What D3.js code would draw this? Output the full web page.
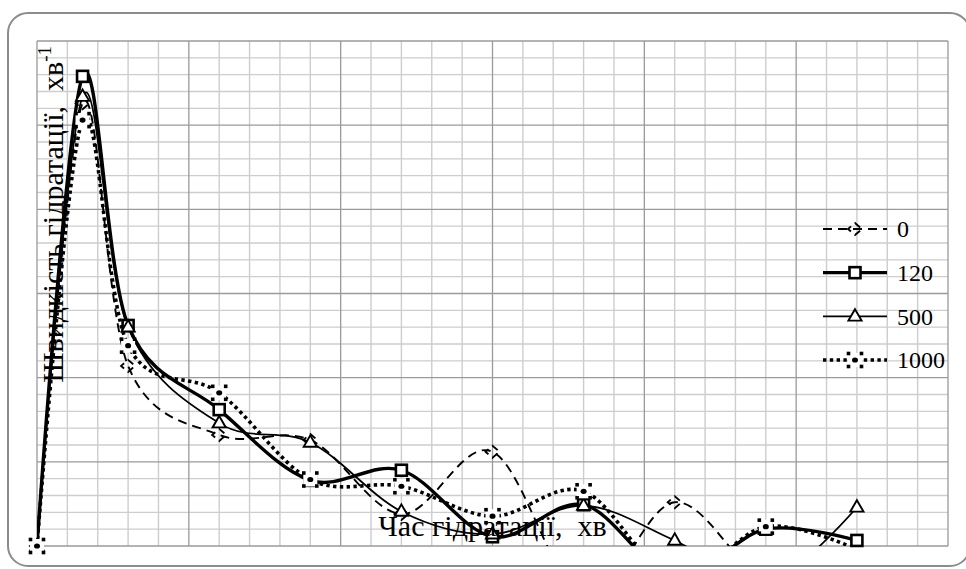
<!DOCTYPE html>
<html>
<head>
<meta charset="utf-8">
<script src="https://cdn.jsdelivr.net/npm/d3@7"></script>
<style>
  html, body { margin: 0; padding: 0; background: #fff; }
  svg { display: block; }
  text { font-family: "Liberation Serif", "Times New Roman", serif; fill: #000; }
</style>
</head>
<body>
<div id="chart"></div>
<script>
// ---- data ----
const timeValues = [0, 0.5, 1, 2, 3, 4, 5, 6, 7, 8, 9];
const seriesNames = ["0", "120", "500", "1000"];
const values0    = [0, 26.3, 10.7, 6.6, 6.3, 1.9, 5.6, -3.0, 2.6, -2.0, -1.5];
const values120  = [0, 27.9, 13.1, 8.1, 3.9, 4.5, 0.55, 2.45, -1.8, 1.0, 0.33];
const values500  = [0, 26.7, 13.0, 7.3, 6.15, 2.05, 0.7, 2.4, 0.33, -2.2, 2.3];
const values1000 = [0, 25.3, 11.9, 9.1, 3.95, 3.55, 1.77, 3.25, -2.0, 1.15, -0.2];
const xDomain = [0, 10];
const yDomain = [0, 30];
const gridDivisions = 30;
const majorEvery = 5;
const xTitle = "Час гідратації,  хв";
const yTitle = "Швидкість гідратації,  хв";
const yTitleSup = "-1";

const W = 966, H = 569;
const plot = { left: 37, top: 41, right: 948, bottom: 546 };

const svg = d3.select("#chart").append("svg").attr("width", W).attr("height", H);

// chart frame
svg.append("rect")
  .attr("x", 8).attr("y", 13).attr("width", 962).attr("height", 553)
  .attr("rx", 20).attr("ry", 20)
  .attr("fill", "#fff").attr("stroke", "#8c8c8c").attr("stroke-width", 2);

const x = d3.scaleLinear().domain(xDomain).range([plot.left, plot.right]);
const y = d3.scaleLinear().domain(yDomain).range([plot.bottom, plot.top]);

// grid
const gridIdx = d3.range(0, gridDivisions + 1);
const xGrid = gridIdx.map(i => xDomain[0] + i * (xDomain[1] - xDomain[0]) / gridDivisions);
const yGrid = gridIdx.map(i => yDomain[0] + i * (yDomain[1] - yDomain[0]) / gridDivisions);
const g = svg.append("g");
const minorX = xGrid.filter((d, i) => i % majorEvery !== 0);
const majorX = xGrid.filter((d, i) => i % majorEvery === 0);
const minorY = yGrid.filter((d, i) => i % majorEvery !== 0);
const majorY = yGrid.filter((d, i) => i % majorEvery === 0);
g.selectAll(".mx").data(minorX).enter().append("line")
  .attr("x1", d => x(d)).attr("x2", d => x(d)).attr("y1", plot.top).attr("y2", plot.bottom)
  .attr("stroke", "#cdcdcd").attr("stroke-width", 1.4);
g.selectAll(".my").data(minorY).enter().append("line")
  .attr("y1", d => y(d)).attr("y2", d => y(d)).attr("x1", plot.left).attr("x2", plot.right)
  .attr("stroke", "#cdcdcd").attr("stroke-width", 1.4);
g.selectAll(".Mx").data(majorX).enter().append("line")
  .attr("x1", d => x(d)).attr("x2", d => x(d)).attr("y1", plot.top).attr("y2", plot.bottom)
  .attr("stroke", "#9a9a9a").attr("stroke-width", 1.3);
g.selectAll(".My").data(majorY).enter().append("line")
  .attr("y1", d => y(d)).attr("y2", d => y(d)).attr("x1", plot.left).attr("x2", plot.right)
  .attr("stroke", "#9a9a9a").attr("stroke-width", 1.3);

// clip
svg.append("clipPath").attr("id", "clip").append("rect")
  .attr("x", plot.left).attr("y", plot.top)
  .attr("width", plot.right - plot.left).attr("height", plot.bottom - plot.top);

const styles = {
  "0":    { width: 1.9, dash: "9,6", marker: "dashdiamond" },
  "120":  { width: 3.4, dash: null, marker: "square" },
  "500":  { width: 1.7, dash: null, marker: "triangle" },
  "1000": { width: 3.6, dash: "3.4,3.4", marker: "dots" }
};
const allValues = [values0, values120, values500, values1000];
const series = seriesNames.map((name, i) => ({
  name, style: styles[name],
  points: timeValues.map((t, j) => ({ t, v: allValues[i][j] }))
}));

const line = d3.line().x(d => x(d.t)).y(d => y(d.v)).curve(d3.curveCardinal.tension(0));

const linesG = svg.append("g").attr("clip-path", "url(#clip)");
series.forEach(s => {
  linesG.append("path").datum(s.points).attr("d", line)
    .attr("fill", "none").attr("stroke", "#000")
    .attr("stroke-width", s.style.width)
    .attr("stroke-dasharray", s.style.dash)
    .attr("stroke-linejoin", "round");
});

function drawMarker(parent, type, cx, cy) {
  const m = parent.append("g").attr("transform", `translate(${cx},${cy})`);
  if (type === "square") {
    m.append("rect").attr("x", -5.5).attr("y", -5.5).attr("width", 11).attr("height", 11)
      .attr("fill", "#fff").attr("stroke", "#000").attr("stroke-width", 2.6);
  } else if (type === "triangle") {
    m.append("path").attr("d", d3.symbol().type(d3.symbolTriangle).size(75)())
      .attr("transform", "translate(0,0.5)")
      .attr("fill", "#fff").attr("stroke", "#000").attr("stroke-width", 1.9);
  } else if (type === "dashdiamond") {
    m.append("path").attr("d", "M-7,0L0,-6L7,0L0,6Z")
      .attr("fill", "none").attr("stroke", "#000")
      .attr("stroke-width", 1.9).attr("stroke-dasharray", "7,5").attr("stroke-dashoffset", 3);
  } else if (type === "dots") {
    m.append("rect").attr("x", -7).attr("y", -7).attr("width", 14).attr("height", 14).attr("fill", "#fff");
    const offs = [[-6.5, -6.5], [6.5, -6.5], [-6.5, 6.5], [6.5, 6.5]];
    offs.forEach(o => m.append("rect").attr("x", o[0] - 1.8).attr("y", o[1] - 1.8)
      .attr("width", 3.6).attr("height", 3.6).attr("fill", "#000"));
    m.append("ellipse").attr("rx", 3).attr("ry", 2.6).attr("fill", "#000");
  }
}

const markersG = svg.append("g");
series.forEach(s => {
  s.points.filter(p => p.v >= yDomain[0] && p.v <= yDomain[1]).forEach(p => {
    drawMarker(markersG, s.style.marker, x(p.t), y(p.v));
  });
});

// axis titles
svg.append("text").attr("x", (plot.left + plot.right) / 2).attr("y", 536)
  .attr("text-anchor", "middle").style("font-size", "30px").style("white-space", "pre")
  .text(xTitle);

const yt = svg.append("text").attr("transform", "translate(63,46) rotate(-90)")
  .attr("text-anchor", "end").style("font-size", "30px").style("white-space", "pre");
yt.append("tspan").text(yTitle);
yt.append("tspan").attr("dy", -12).style("font-size", "19px").text(yTitleSup);

// legend
const legendY = d3.scaleLinear().domain([0, seriesNames.length - 1]).range([229, 360]);
const lg = svg.append("g");
series.forEach((s, i) => {
  const ly = legendY(i);
  lg.append("line").attr("x1", 823).attr("x2", 887).attr("y1", ly).attr("y2", ly)
    .attr("stroke", "#000").attr("stroke-width", s.style.width)
    .attr("stroke-dasharray", s.style.dash);
  drawMarker(lg, s.style.marker, 855, ly);
  lg.append("text").attr("x", 897).attr("y", ly).attr("dy", "0.35em")
    .style("font-size", "24px").text(s.name);
});
</script>
</body>
</html>
